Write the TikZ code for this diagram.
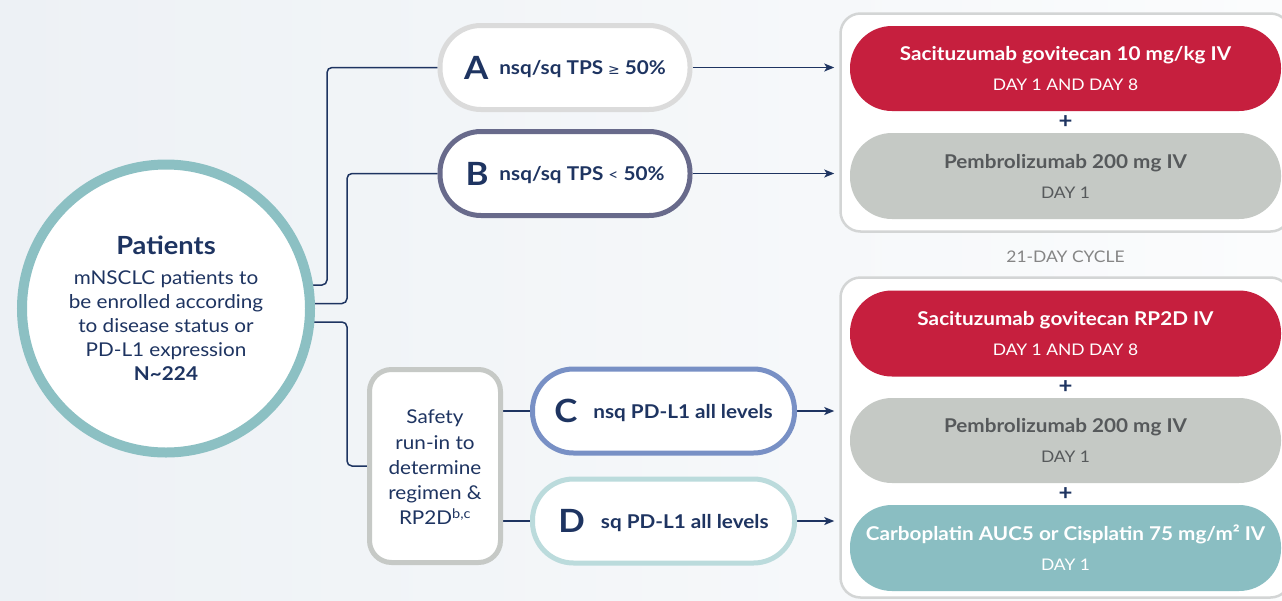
\documentclass[tikz,border=0pt]{standalone}
\usepackage{fontspec}
\setmainfont{Lato}[FakeStretch=1.09]
\newfontfamily\symfont{DejaVu Sans}
\usetikzlibrary{arrows.meta,backgrounds,calc}
\definecolor{navy}{HTML}{1E3461}
\definecolor{bgL}{HTML}{EDF1F5}
\definecolor{bgR}{HTML}{FBFCFD}
\definecolor{circcol}{HTML}{8CC0C3}
\definecolor{pAcol}{HTML}{DBDBDB}
\definecolor{pBcol}{HTML}{686A8B}
\definecolor{pCcol}{HTML}{7890C5}
\definecolor{pDcol}{HTML}{BBDBDC}
\definecolor{safecol}{HTML}{C6C9C6}
\definecolor{redfill}{HTML}{C61F3E}
\definecolor{grayfill}{HTML}{C5C9C5}
\definecolor{tealfill}{HTML}{8ABEC2}
\definecolor{boxcol}{HTML}{D3D5D5}
\definecolor{graytext}{HTML}{56595B}
\definecolor{cyclecol}{HTML}{858585}
\newcommand\armletter[1]{{\fontsize{32}{32}\selectfont\bfseries #1}}
\newcommand\armtext[1]{\raisebox{4.5pt}{\fontsize{19}{23}\selectfont\bfseries #1}}
\begin{document}
\begin{tikzpicture}[x=1pt,y=-1pt,
  conn/.style={draw=navy,line width=1.5pt,rounded corners=5pt},
  arr/.style={draw=navy,line width=1.5pt,-{Stealth[length=10pt,width=8pt,inset=2.5pt]}},
  armpill/.style={draw,line width=5pt,fill=white,rounded corners=41pt,minimum height=84pt,inner sep=0pt,text=navy},
  regbox/.style={draw=boxcol,line width=2.5pt,fill=white,rounded corners=20pt,minimum width=450pt},
  drug/.style={rounded corners=42pt,minimum width=431pt,minimum height=85pt,inner sep=0pt,align=center,font=\fontsize{16}{30}\selectfont},
  plus/.style={text=navy,font=\fontsize{22}{22}\selectfont\bfseries,inner sep=0pt}
]
\useasboundingbox (0,0) rectangle (1282,600);
\clip (0,0) rectangle (1282,600);

% patients circle
\node[circle,draw=circcol,line width=10pt,fill=white,minimum size=288pt,inner sep=0pt,align=center,text=navy,font=\fontsize{19}{24}\selectfont] (pat) at (166,308.5)
 {{\fontsize{25}{30}\selectfont\bfseries Patients}\\[6pt]mNSCLC patients to\\be enrolled according\\to disease status or\\PD-L1 expression\\\textbf{N\textasciitilde224}};

% arms
\node[armpill,draw=pAcol,minimum width=250pt] (A) at (565,67.5)
 {\armletter{A}\hspace{11pt}\armtext{nsq/sq TPS {\symfont\mdseries\fontsize{14}{14}\selectfont ≥} 50\%}};
\node[armpill,draw=pBcol,minimum width=250pt] (B) at (565,173.5)
 {\armletter{B}\hspace{11pt}\armtext{nsq/sq TPS {\mdseries\fontsize{16}{16}\selectfont <} 50\%}};
\node[armpill,draw=pCcol,minimum width=262pt] (C) at (663.5,411)
 {\armletter{C}\hspace{16pt}\armtext{nsq PD-L1 all levels}};
\node[armpill,draw=pDcol,minimum width=262pt] (D) at (663.5,521)
 {\armletter{D}\hspace{16pt}\armtext{sq PD-L1 all levels}};

% safety run-in
\node[draw=safecol,line width=5pt,fill=white,rounded corners=22pt,minimum width=131pt,minimum height=193pt,inner sep=0pt,align=center,text=navy,font=\fontsize{19}{25.2}\selectfont] (S) at (435,466)
 {\begin{tabular}{@{}c@{}}\rule{0pt}{24pt}Safety\\run-in to\\determine\\regimen \&\\RP2D\textsuperscript{b,c}\end{tabular}};

% regimen boxes
\node[regbox,minimum height=218pt] (box1) at (1065.5,122.5) {};
\node[regbox,minimum height=320pt] (box2) at (1065.5,437.5) {};

\node[drug,fill=redfill,text=white] (r1) at (1065.5,68.5)
 {{\bfseries\fontsize{19}{30}\selectfont Sacituzumab govitecan 10 mg/kg IV}\\DAY 1 AND DAY 8};
\node[drug,fill=grayfill,text=graytext,minimum height=86pt] (g1) at (1065.5,176)
 {{\bfseries\fontsize{19}{30}\selectfont Pembrolizumab 200 mg IV}\\DAY 1};
\node[plus] (p1) at ($(r1.south)!0.5!(g1.north)$) {+};

\node[text=cyclecol,font=\fontsize{16}{16}\selectfont] (cyc) at (1065.5,257) {21-DAY CYCLE};

\node[drug,fill=redfill,text=white,minimum height=86pt] (r2) at (1065.5,333.5)
 {{\bfseries\fontsize{19}{30}\selectfont Sacituzumab govitecan RP2D IV}\\DAY 1 AND DAY 8};
\node[drug,fill=grayfill,text=graytext] (g2) at (1065.5,440.5)
 {{\bfseries\fontsize{19}{30}\selectfont Pembrolizumab 200 mg IV}\\DAY 1};
\node[drug,fill=tealfill,text=white,minimum height=86pt] (t2) at (1065.5,548)
 {{\bfseries\fontsize{19}{30}\selectfont Carboplatin AUC5 or Cisplatin 75 mg/m² IV}\\DAY 1};
\node[plus] (p2) at ($(r2.south)!0.5!(g2.north)$) {+};
\node[plus] (p3) at ($(g2.south)!0.5!(t2.north)$) {+};

\begin{scope}[on background layer]
 \shade[left color=bgL,right color=bgR] (0,0) rectangle (1282,600);
 \draw[conn] (pat.center |- 0,285) -- (327,285) |- (A.west);
 \draw[conn] (pat.center |- 0,303.5) -- (347,303.5) |- (B.west);
 \draw[conn] (pat.center |- 0,322) -- (347,322) |- (S.west);
 \draw[conn] (S.east |- C.west) -- (C.west);
 \draw[conn] (S.east |- D.west) -- (D.west);
 \draw[arr,shorten >=5pt] (A.east) -- (box1.west |- A.east);
 \draw[arr,shorten >=5pt] (B.east) -- (box1.west |- B.east);
 \draw[arr,shorten >=5pt] (C.east) -- (box2.west |- C.east);
 \draw[arr,shorten >=5pt] (D.east) -- (box2.west |- D.east);
\end{scope}
\end{tikzpicture}
\end{document}
